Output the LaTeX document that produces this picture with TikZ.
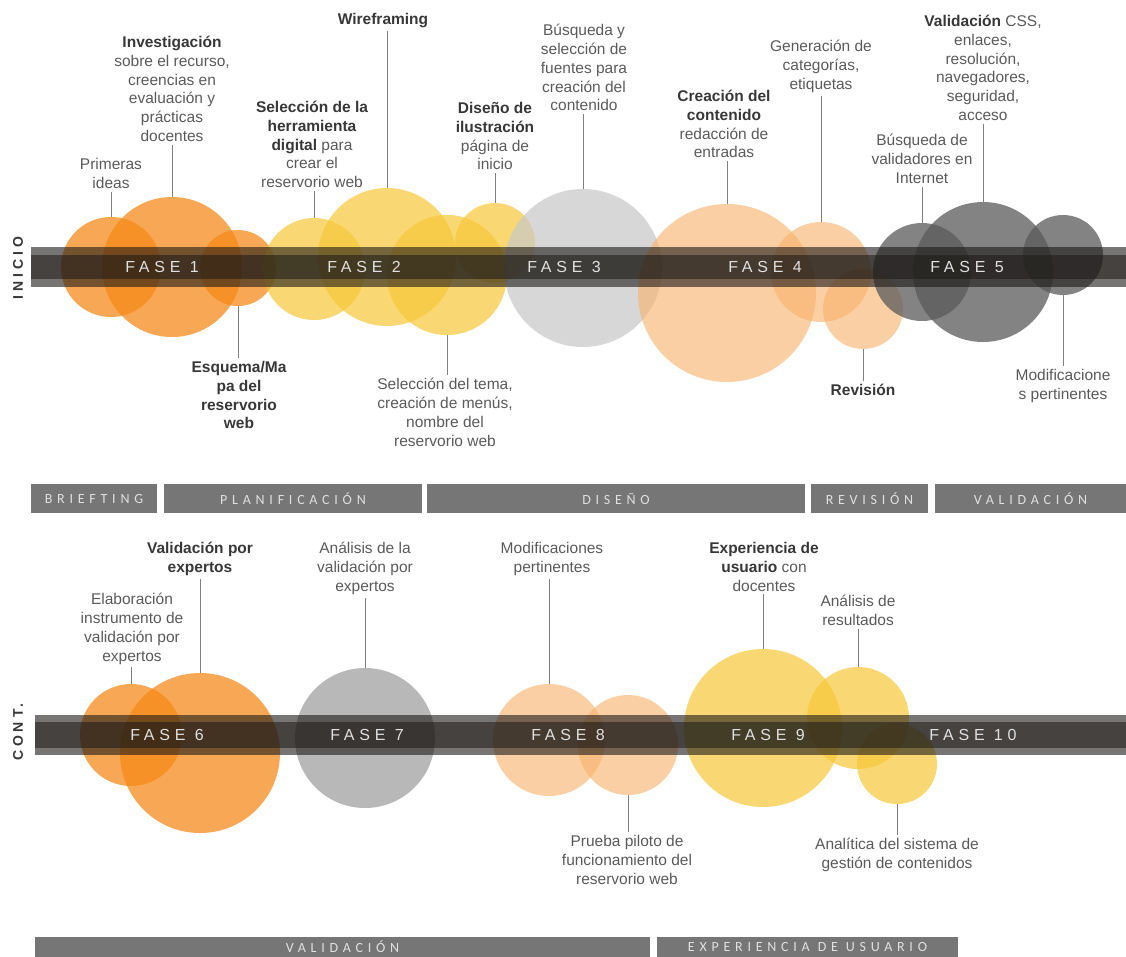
\documentclass[tikz,border=0pt]{standalone}
\usepackage{fontspec}
\setmainfont{Liberation Sans}
\newfontfamily\fasefont[LetterSpace=30]{Liberation Sans}
\newfontfamily\etapafont[LetterSpace=34]{Carlito}
\newfontfamily\ladofont[LetterSpace=28]{Liberation Sans}
\definecolor{naranja}{RGB}{245,137,25}
\definecolor{amarillo}{RGB}{247,200,60}
\definecolor{grisclaro}{RGB}{200,200,200}
\definecolor{grismedio}{RGB}{160,160,160}
\definecolor{grisoscuro}{RGB}{90,90,90}
\definecolor{melocoton}{RGB}{248,178,108}
\definecolor{texto}{RGB}{90,90,90}
\definecolor{oscuro}{RGB}{55,55,55}
\definecolor{barra}{RGB}{118,118,118}
\definecolor{banda}{RGB}{28,25,22}
\newcommand\resalta[1]{\textbf{\color{oscuro}#1}}

\begin{document}
\begin{tikzpicture}[x=1pt,y=-1pt,
  burbuja/.style={circle,inner sep=0pt,minimum size=#1},
  nar/.style={fill=naranja,fill opacity=.74},
  ama/.style={fill=amarillo,fill opacity=.72},
  gcl/.style={fill=grisclaro,fill opacity=.72},
  gme/.style={fill=grismedio,fill opacity=.75},
  gos/.style={fill=grisoscuro,fill opacity=.75},
  mel/.style={fill=melocoton,fill opacity=.62},
  etiqueta/.style={anchor=north,align=center,inner sep=3pt,text=texto,font=\fontsize{15.5}{18.8}\selectfont},
  guia/.style={draw=black!50,line width=0.9pt},
  fase/.style={text=white!88!black,font=\fasefont\fontsize{16}{16}\selectfont},
  etapa/.style={fill=barra,text=white!88!black,inner sep=0pt,font=\etapafont\fontsize{14}{14}\selectfont},
  lado/.style={rotate=90,text=oscuro,font=\ladofont\bfseries\fontsize{14}{14}\selectfont}]

\useasboundingbox (0,0) rectangle (1126,956);

\node[burbuja=100pt,nar] (ideas) at (111,267) {};
\node[burbuja=140pt,nar] (invest) at (172,267) {};
\node[burbuja=76pt,nar] (esquema) at (238,268) {};
\node[burbuja=102pt,ama] (herram) at (314,269) {};
\node[burbuja=138pt,ama] (wire) at (387,257) {};
\node[burbuja=120pt,ama] (tema) at (447,275) {};
\node[burbuja=80pt,ama] (ilustra) at (495,243) {};
\node[burbuja=158pt,gcl] (fuentes) at (583,268) {};
\node[burbuja=178pt,mel] (contenido) at (727,293) {};
\node[burbuja=100pt,mel] (categ) at (821,272) {};
\node[burbuja=80pt,mel] (revision) at (863,309) {};
\node[burbuja=98pt,gos] (validad) at (922,272) {};
\node[burbuja=140pt,gos] (css) at (983,272) {};
\node[burbuja=80pt,gos] (modif) at (1063,255) {};

\node[burbuja=102pt,nar] (instrum) at (131,735) {};
\node[burbuja=160pt,nar] (expertos) at (200,753) {};
\node[burbuja=140pt,gme] (analval) at (365,738) {};
\node[burbuja=112pt,mel] (modpert) at (549,740) {};
\node[burbuja=100pt,mel] (piloto) at (628,745) {};
\node[burbuja=158pt,ama] (usuario) at (763,728) {};
\node[burbuja=102pt,ama] (result) at (858,718) {};
\node[burbuja=80pt,ama] (analit) at (897,764) {};

\fill[banda,opacity=.6] (31,247) rectangle (1126,287);
\fill[banda,opacity=.55] (31,255) rectangle (1126,279);
\fill[banda,opacity=.6] (35,715) rectangle (1126,755);
\fill[banda,opacity=.55] (35,722) rectangle (1126,748);

\node[lado] (inicio) at (18,268) {INICIO};
\node[lado] (cont) at (18,732) {CONT.};

\node[fase] (f1) at (162,267) {FASE 1};
\node[fase] (f2) at (364,267) {FASE 2};
\node[fase] (f3) at (564,267) {FASE 3};
\node[fase] (f4) at (765,267) {FASE 4};
\node[fase] (f5) at (967,267) {FASE 5};
\node[fase] (f6) at (167,735) {FASE 6};
\node[fase] (f7) at (367,735) {FASE 7};
\node[fase] (f8) at (568,735) {FASE 8};
\node[fase] (f9) at (768,735) {FASE 9};
\node[fase] (f10) at (973,735) {FASE 10};

\node[etiqueta] (t-ideas) at (111,155) {Primeras\\ideas};
\node[etiqueta] (t-invest) at (172,33) {\resalta{Investigación}\\sobre el recurso,\\creencias en\\evaluación y\\prácticas\\docentes};
\node[etiqueta] (t-esquema) at (239,358) {\resalta{Esquema/Ma}\\\resalta{pa del}\\\resalta{reservorio}\\\resalta{web}};
\node[etiqueta] (t-herram) at (312,98) {\resalta{Selección de la}\\\resalta{herramienta}\\\resalta{digital} para\\crear el\\reservorio web};
\node[etiqueta] (t-wire) at (383,10) {\resalta{Wireframing}};
\node[etiqueta] (t-tema) at (445,375) {Selección del tema,\\creación de menús,\\nombre del\\reservorio web};
\node[etiqueta] (t-ilustra) at (495,99) {\resalta{Diseño de}\\\resalta{ilustración}\\página de\\inicio};
\node[etiqueta] (t-fuentes) at (584,21) {Búsqueda y\\selección de\\fuentes para\\creación del\\contenido};
\node[etiqueta] (t-contenido) at (724,87) {\resalta{Creación del}\\\resalta{contenido}\\redacción de\\entradas};
\node[etiqueta] (t-categ) at (821,37) {Generación de\\categorías,\\etiquetas};
\node[etiqueta] (t-revision) at (863,381) {\resalta{Revisión}};
\node[etiqueta] (t-validad) at (922,131) {Búsqueda de\\validadores en\\Internet};
\node[etiqueta] (t-css) at (983,12) {\resalta{Validación} CSS,\\enlaces,\\resolución,\\navegadores,\\seguridad,\\acceso};
\node[etiqueta] (t-modif) at (1063,366) {Modificacione\\s pertinentes};

\node[etiqueta] (t-instrum) at (132,590) {Elaboración\\instrumento de\\validación por\\expertos};
\node[etiqueta] (t-expertos) at (200,539) {\resalta{Validación por}\\\resalta{expertos}};
\node[etiqueta] (t-analval) at (365,539) {Análisis de la\\validación por\\expertos};
\node[etiqueta] (t-modpert) at (552,539) {Modificaciones\\pertinentes};
\node[etiqueta] (t-piloto) at (627,832) {Prueba piloto de\\funcionamiento del\\reservorio web};
\node[etiqueta] (t-usuario) at (764,539) {\resalta{Experiencia de}\\\resalta{usuario} con\\docentes};
\node[etiqueta] (t-result) at (858,592) {Análisis de\\resultados};
\node[etiqueta] (t-analit) at (897,835) {Analítica del sistema de\\gestión de contenidos};

\draw[guia] (ideas.north) -- (ideas.north |- t-ideas.south);
\draw[guia] (invest.north) -- (invest.north |- t-invest.south);
\draw[guia] (esquema.south) -- (esquema.south |- t-esquema.north);
\draw[guia] (herram.north) -- (herram.north |- t-herram.south);
\draw[guia] (wire.north) -- (wire.north |- t-wire.south);
\draw[guia] (tema.south) -- (tema.south |- t-tema.north);
\draw[guia] (ilustra.north) -- (ilustra.north |- t-ilustra.south);
\draw[guia] (fuentes.north) -- (fuentes.north |- t-fuentes.south);
\draw[guia] (contenido.north) -- (contenido.north |- t-contenido.south);
\draw[guia] (categ.north) -- (categ.north |- t-categ.south);
\draw[guia] (revision.south) -- (revision.south |- t-revision.north);
\draw[guia] (validad.north) -- (validad.north |- t-validad.south);
\draw[guia] (css.north) -- (css.north |- t-css.south);
\draw[guia] (modif.south) -- (modif.south |- t-modif.north);

\draw[guia] (instrum.north) -- (instrum.north |- t-instrum.south);
\draw[guia] (expertos.north) -- (expertos.north |- t-expertos.south);
\draw[guia] (analval.north) -- (analval.north |- t-analval.south);
\draw[guia] (modpert.north) -- (modpert.north |- t-modpert.south);
\draw[guia] (piloto.south) -- (piloto.south |- t-piloto.north);
\draw[guia] (usuario.north) -- (usuario.north |- t-usuario.south);
\draw[guia] (result.north) -- (result.north |- t-result.south);
\draw[guia] (analit.south) -- (analit.south |- t-analit.north);

\node[etapa,minimum width=126pt,minimum height=29pt] (briefing) at (94,498.5) {BRIEFTING};
\node[etapa,minimum width=258pt,minimum height=29pt] (planif) at (293,498.5) {PLANIFICACIÓN};
\node[etapa,minimum width=378pt,minimum height=29pt] (diseno) at (616,498.5) {DISEÑO};
\node[etapa,minimum width=117pt,minimum height=29pt] (revis) at (869.5,498.5) {REVISIÓN};
\node[etapa,minimum width=191pt,minimum height=29pt] (valid) at (1030.5,498.5) {VALIDACIÓN};
\node[etapa,minimum width=615pt,minimum height=20pt] (valid2) at (342.5,946.5) {VALIDACIÓN};
\node[etapa,minimum width=301pt,minimum height=20pt] (exper) at (807.5,946.5) {EXPERIENCIA DE USUARIO};
\end{tikzpicture}
\end{document}
